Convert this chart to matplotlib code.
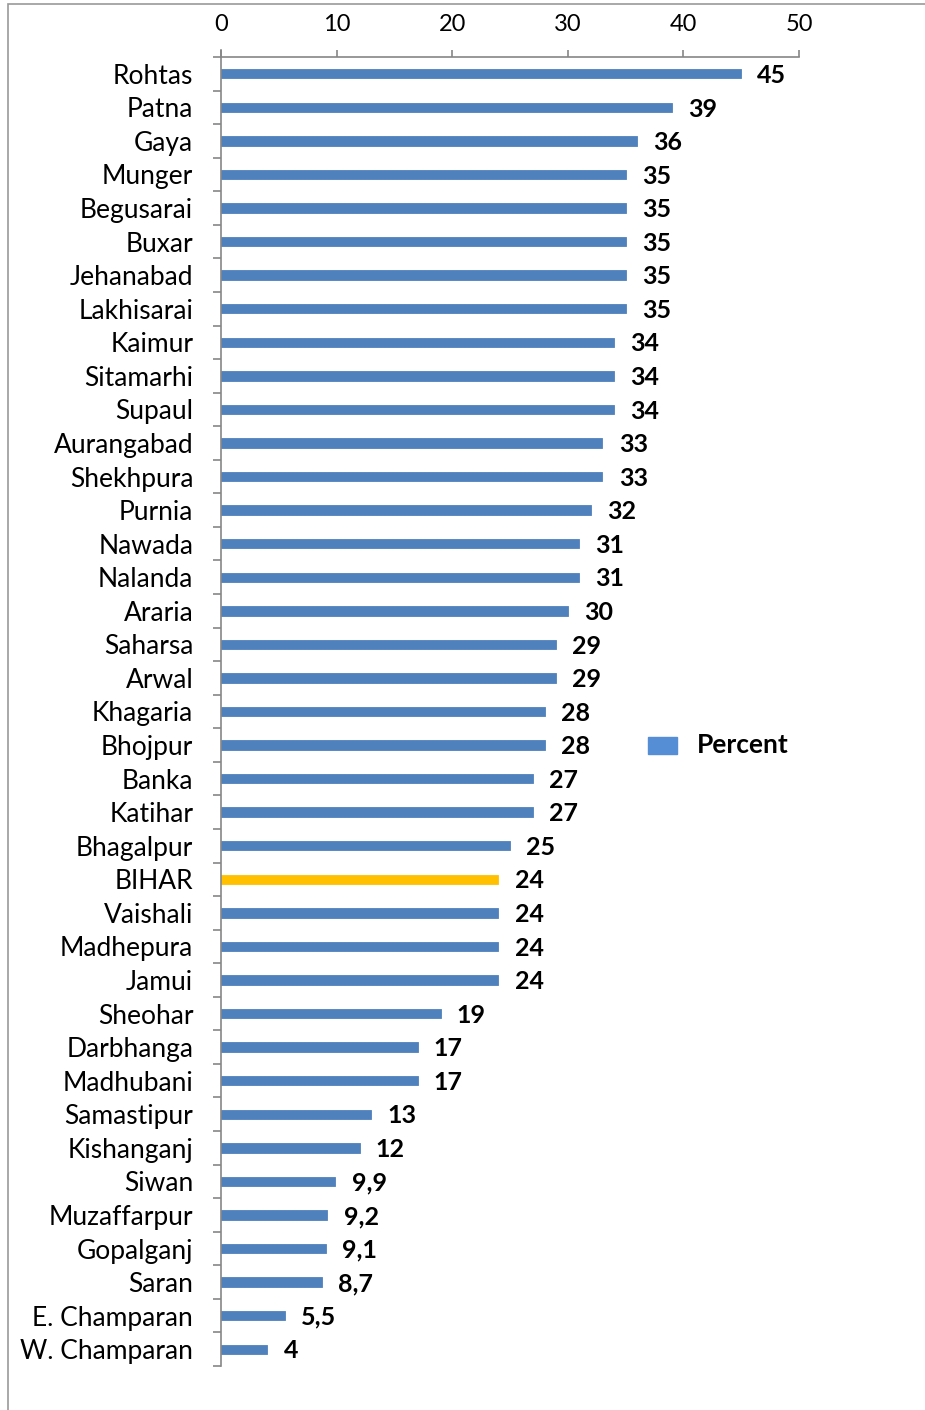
import matplotlib.pyplot as plt
from matplotlib.patches import Rectangle

# districts, top to bottom
districts = ['Rohtas', 'Patna', 'Gaya', 'Munger', 'Begusarai', 'Buxar', 'Jehanabad',
             'Lakhisarai', 'Kaimur', 'Sitamarhi', 'Supaul', 'Aurangabad', 'Shekhpura',
             'Purnia', 'Nawada', 'Nalanda', 'Araria', 'Saharsa', 'Arwal', 'Khagaria',
             'Bhojpur', 'Banka', 'Katihar', 'Bhagalpur', 'BIHAR', 'Vaishali', 'Madhepura',
             'Jamui', 'Sheohar', 'Darbhanga', 'Madhubani', 'Samastipur', 'Kishanganj',
             'Siwan', 'Muzaffarpur', 'Gopalganj', 'Saran', 'E. Champaran', 'W. Champaran']
percent = [45, 39, 36, 35, 35, 35, 35, 35, 34, 34, 34, 33, 33, 32, 31, 31, 30, 29, 29,
           28, 28, 27, 27, 25, 24, 24, 24, 24, 19, 17, 17, 13, 12, 9.9, 9.2, 9.1, 8.7, 5.5, 4]
x_ticks = [0, 10, 20, 30, 40, 50]

blue = '#4F81BD'
gold = '#FFC000'
grey = '#868686'
font = ['Lato', 'DejaVu Sans']

fig = plt.figure(figsize=(9.25, 14.1), dpi=100)
ax = fig.add_axes([221 / 925, 1 - 1366 / 1410, 578 / 925, 1309 / 1410])

# outer chart frame
fig.patches.append(Rectangle((8 / 925, -0.1), 1.2, 1 - 4 / 1410 + 0.1, transform=fig.transFigure,
                             fill=False, edgecolor='#999999', linewidth=1.2))

n = len(districts)
ypos = list(range(n))
colors = [gold if d == 'BIHAR' else blue for d in districts]
ax.barh(ypos, percent, height=0.28, color=colors, edgecolor=colors, linewidth=0.6)

for y, v in zip(ypos, percent):
    txt = f'{v:g}'.replace('.', ',')
    ax.text(v + 1.4, y + 0.05, txt, ha='left', va='center', fontsize=18, fontweight='bold',
            family=font, color='black')

ax.set_xlim(0, 50)
ax.set_ylim(n - 0.5, -0.5)
ax.xaxis.tick_top()
ax.set_xticks(x_ticks)
ax.set_xticklabels([str(t) for t in x_ticks], fontsize=17, family=font)
ax.tick_params(axis='x', length=5, width=1.2, color=grey, pad=11, top=True, bottom=False)

# category labels centred on the bars, ticks at the boundaries
ax.set_yticks(ypos)
ax.set_yticklabels(districts, fontsize=19, family=font)
ax.tick_params(axis='y', length=0, pad=20)
ax.set_yticks([i - 0.5 for i in range(n + 1)], minor=True)
ax.tick_params(axis='y', which='minor', length=6, color=grey, width=1.2)

for s in ['right', 'bottom']:
    ax.spines[s].set_visible(False)
for s in ['left', 'top']:
    ax.spines[s].set_color(grey)
    ax.spines[s].set_linewidth(1.2)
ax.spines['left'].set_bounds(n - 0.5, -0.72)

# legend
leg_ax = fig.add_axes([0, 0, 1, 1], facecolor='none')
leg_ax.set_xlim(0, 925)
leg_ax.set_ylim(1410, 0)
leg_ax.axis('off')
leg_ax.add_patch(Rectangle((648, 737), 29, 17, color='#558ED5'))
leg_ax.text(697, 745, 'Percent', fontsize=19, fontweight='bold', family=font,
            va='center', ha='left')

fig.savefig('out.png', dpi=100)
